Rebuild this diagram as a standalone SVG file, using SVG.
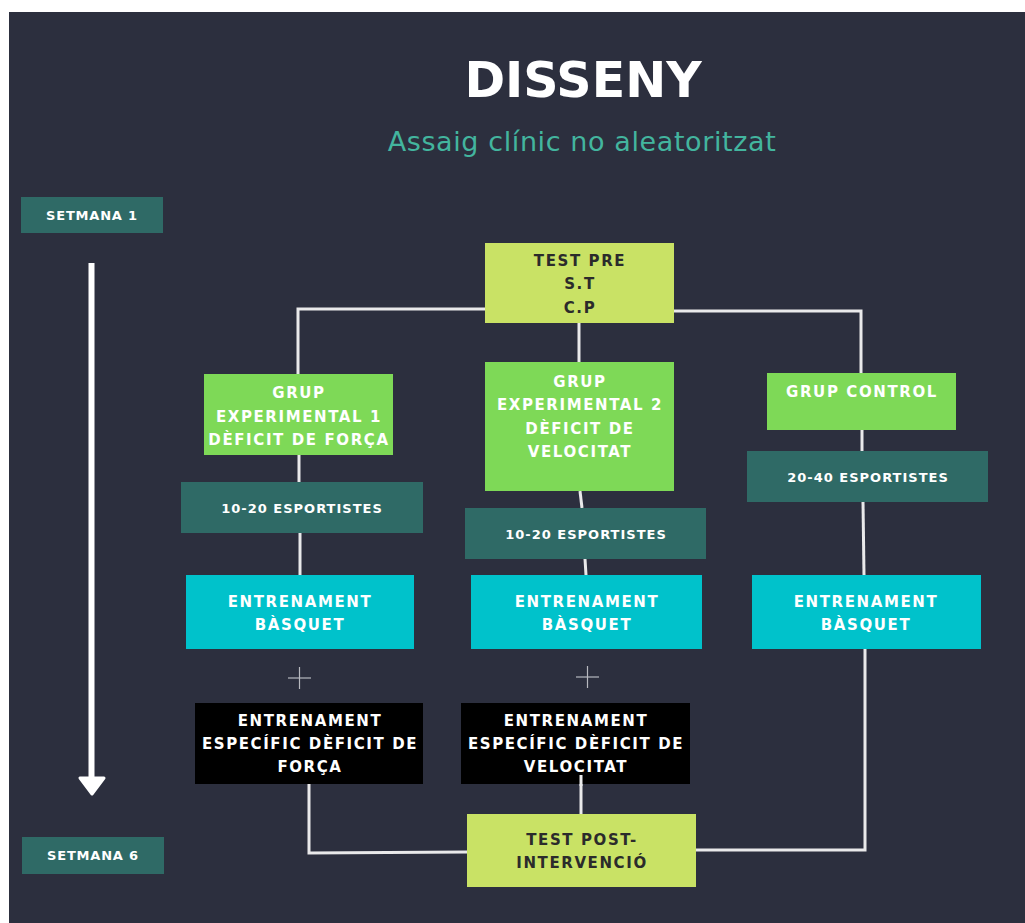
<svg xmlns="http://www.w3.org/2000/svg" width="1025" height="923" viewBox="0 0 1025 923">
<style>
.t{font-family:"DejaVu Sans","Liberation Sans",sans-serif;font-weight:bold;text-anchor:middle;font-size:15px;letter-spacing:1.6px}
.w{fill:#ffffff}
.d{fill:#2b2b2b}
.s{font-size:13px;letter-spacing:1px}
.wk{font-size:13px;letter-spacing:0.8px}
.teal{fill:#2f6a66}
.green{fill:#7ed957}
.lime{fill:#c9e265}
.cyan{fill:#00c2cb}
.blk{fill:#000000}
.c{fill:none;stroke:#e9e9ea;stroke-width:3}
</style>
<rect x="0" y="0" width="1025" height="923" fill="#ffffff"/>
<rect x="9" y="12" width="1016" height="911" fill="#2c2f3e"/>
<text x="583" y="97" class="t w" style="font-size:49px;letter-spacing:0">DISSENY</text>
<text x="582" y="151" style="font-family:'DejaVu Sans','Liberation Sans',sans-serif;font-size:27px;letter-spacing:0.6px;text-anchor:middle;fill:#43b59e">Assaig clínic no aleatoritzat</text>

<g id="timeline">
<line x1="91.5" y1="263" x2="91.5" y2="782" stroke="#ffffff" stroke-width="6"/>
<polygon points="80,778 104,778 92,794" fill="#ffffff" stroke="#ffffff" stroke-width="3" stroke-linejoin="round"/>
</g>

<g id="connectors">
<polyline class="c" points="485,309 298,309 298,374"/>
<polyline class="c" points="674,311 861,311 861,373"/>
<line class="c" x1="579" y1="323" x2="579" y2="362"/>
<line class="c" x1="299" y1="455" x2="299" y2="482"/>
<line class="c" x1="300" y1="533" x2="300" y2="575"/>
<line class="c" x1="580" y1="491" x2="582" y2="508"/>
<line class="c" x1="585" y1="559" x2="586" y2="575"/>
<line class="c" x1="862" y1="430" x2="862" y2="451"/>
<line class="c" x1="863" y1="502" x2="864" y2="575"/>
<polyline class="c" points="309,784 309,853 467,852"/>
<line class="c" x1="581" y1="775" x2="581" y2="814"/>
<polyline class="c" points="865,649 865,850 696,850"/>
</g>

<g id="plus1" stroke="#b8b9bf" stroke-width="1.2">
<line x1="288" y1="678" x2="311" y2="678"/><line x1="299.5" y1="667" x2="299.5" y2="689"/>
</g>
<g id="plus2" stroke="#b8b9bf" stroke-width="1.2">
<line x1="576" y1="677" x2="599" y2="677"/><line x1="587.5" y1="666" x2="587.5" y2="688"/>
</g>

<g id="setmana1"><rect x="21" y="197" width="142" height="36" class="teal"/><text x="92" y="220" class="t w wk">SETMANA 1</text></g>
<g id="setmana6"><rect x="22" y="837" width="142" height="37" class="teal"/><text x="93" y="860" class="t w wk">SETMANA 6</text></g>

<g id="testpre"><rect x="485" y="243" width="189" height="80" class="lime"/>
<text x="580" y="266" class="t d">TEST PRE</text><text x="580" y="289" class="t d">S.T</text><text x="580" y="313" class="t d">C.P</text></g>

<g id="ge1"><rect x="204" y="374" width="189" height="81" class="green"/>
<text x="299" y="398" class="t w">GRUP</text><text x="299" y="422" class="t w">EXPERIMENTAL 1</text><text x="299" y="445" class="t w">DÈFICIT DE FORÇA</text></g>

<g id="ge2"><rect x="485" y="362" width="189" height="129" class="green"/>
<text x="580" y="387" class="t w">GRUP</text><text x="580" y="410" class="t w">EXPERIMENTAL 2</text><text x="580" y="434" class="t w">DÈFICIT DE</text><text x="580" y="457" class="t w">VELOCITAT</text></g>

<g id="gc"><rect x="767" y="373" width="189" height="57" class="green"/>
<text x="862" y="397" class="t w">GRUP CONTROL</text></g>

<g id="esp1"><rect x="181" y="482" width="242" height="51" class="teal"/><text x="302" y="513" class="t w s">10-20 ESPORTISTES</text></g>
<g id="esp2"><rect x="465" y="508" width="241" height="51" class="teal"/><text x="586" y="539" class="t w s">10-20 ESPORTISTES</text></g>
<g id="esp3"><rect x="747" y="451" width="241" height="51" class="teal"/><text x="868" y="482" class="t w s">20-40 ESPORTISTES</text></g>

<g id="eb1"><rect x="186" y="575" width="228" height="74" class="cyan"/>
<text x="300" y="607" class="t w">ENTRENAMENT</text><text x="300" y="630" class="t w">BÀSQUET</text></g>
<g id="eb2"><rect x="471" y="575" width="231" height="74" class="cyan"/>
<text x="587" y="607" class="t w">ENTRENAMENT</text><text x="587" y="630" class="t w">BÀSQUET</text></g>
<g id="eb3"><rect x="752" y="575" width="229" height="74" class="cyan"/>
<text x="866" y="607" class="t w">ENTRENAMENT</text><text x="866" y="630" class="t w">BÀSQUET</text></g>

<g id="ee1"><rect x="195" y="703" width="228" height="81" class="blk"/>
<text x="310" y="726" class="t w">ENTRENAMENT</text><text x="310" y="749" class="t w">ESPECÍFIC DÈFICIT DE</text><text x="310" y="772" class="t w">FORÇA</text></g>
<g id="ee2"><rect x="461" y="703" width="229" height="81" class="blk"/>
<text x="576" y="726" class="t w">ENTRENAMENT</text><text x="576" y="749" class="t w">ESPECÍFIC DÈFICIT DE</text><text x="576" y="772" class="t w">VELOCITAT</text></g>
<line class="c" x1="581" y1="775" x2="581" y2="786"/>

<g id="testpost"><rect x="467" y="814" width="229" height="73" class="lime"/>
<text x="582" y="845" class="t d">TEST POST-</text><text x="582" y="868" class="t d">INTERVENCIÓ</text></g>
</svg>
